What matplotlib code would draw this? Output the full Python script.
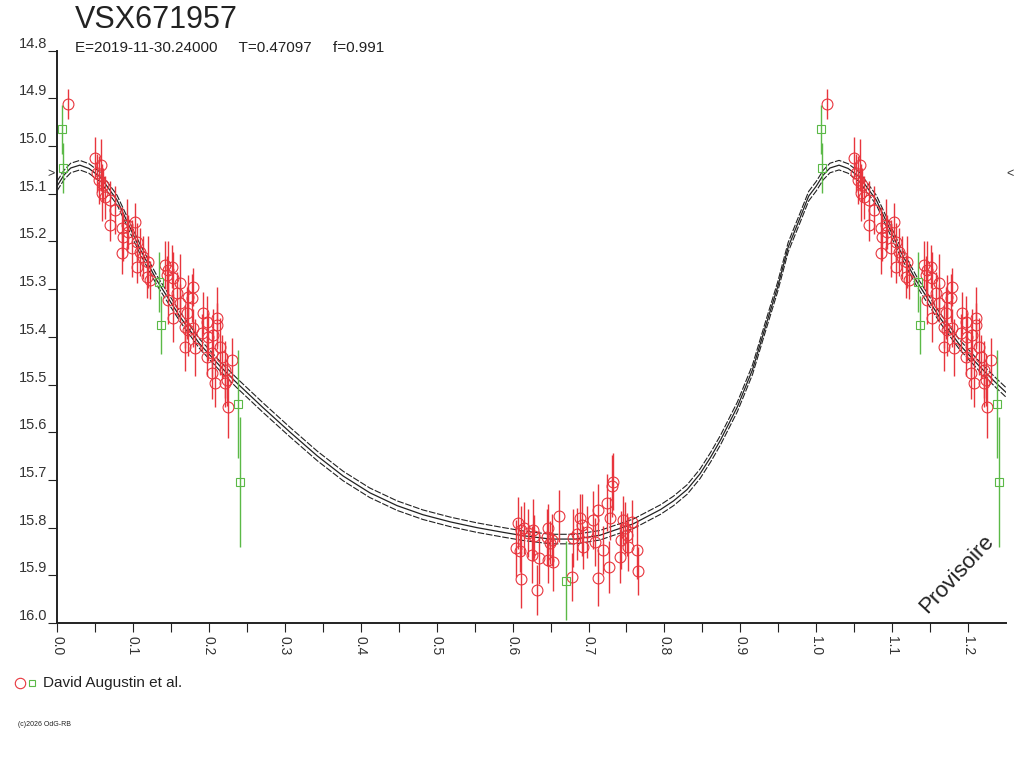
import numpy as np
import matplotlib
matplotlib.use("Agg")
import matplotlib.pyplot as plt
from matplotlib.lines import Line2D

plt.rcParams["font.family"] = ["Liberation Sans", "DejaVu Sans"]

RED = "#e8353d"
GREEN = "#5bb947"
INK = "#222222"

red_phase = [
    0.0141,
    0.0501, 0.0580, 0.0527, 0.0553, 0.0606, 0.0593, 0.0632, 0.0698, 0.0764, 0.0698,
    0.0856, 0.0922, 0.1028, 0.0870, 0.0935, 0.0856, 0.0988, 0.1054, 0.1094, 0.1133,
    0.1054, 0.1199, 0.1186, 0.1225, 0.1423, 0.1462, 0.1515, 0.1449, 0.1528, 0.1462,
    0.1581, 0.1621, 0.1621, 0.1528, 0.1713, 0.1726, 0.1792, 0.1779, 0.1686, 0.1726,
    0.1792, 0.1686, 0.1818, 0.1924, 0.1976, 0.1910, 0.1989, 0.2108, 0.2108, 0.2055,
    0.2042, 0.1976, 0.2148, 0.2174, 0.2042, 0.2082, 0.2213, 0.2306, 0.2240, 0.2253,
    0.2213,
    0.6074, 0.6113, 0.6047, 0.6100, 0.6113, 0.6153, 0.6206, 0.6271, 0.6285, 0.6258,
    0.6324, 0.6350, 0.6469, 0.6456, 0.6495, 0.6522, 0.6469, 0.6535, 0.6614, 0.6785,
    0.6798, 0.6851, 0.6891, 0.6917, 0.6930, 0.6983, 0.7062, 0.7088, 0.7128, 0.7128,
    0.7194, 0.7246, 0.7273, 0.7286, 0.7312, 0.7325, 0.7457, 0.7484, 0.7510, 0.7431,
    0.7523, 0.7418, 0.7576, 0.7642, 0.7655,
]
red_mag = [
    14.912,
    15.025, 15.040, 15.056, 15.071, 15.082, 15.098, 15.107, 15.113, 15.134, 15.165,
    15.172, 15.165, 15.159, 15.191, 15.180, 15.224, 15.214, 15.201, 15.222, 15.233,
    15.253, 15.243, 15.274, 15.281, 15.249, 15.260, 15.253, 15.270, 15.277, 15.323,
    15.308, 15.287, 15.329, 15.360, 15.350, 15.316, 15.295, 15.318, 15.379, 15.386,
    15.381, 15.421, 15.423, 15.350, 15.369, 15.392, 15.400, 15.360, 15.375, 15.396,
    15.434, 15.442, 15.421, 15.442, 15.476, 15.497, 15.469, 15.448, 15.490, 15.547,
    15.497,
    15.790, 15.805, 15.843, 15.849, 15.908, 15.801, 15.811, 15.805, 15.818, 15.857,
    15.931, 15.863, 15.801, 15.820, 15.832, 15.826, 15.867, 15.872, 15.776, 15.903,
    15.822, 15.813, 15.780, 15.795, 15.841, 15.809, 15.784, 15.830, 15.763, 15.905,
    15.847, 15.748, 15.883, 15.780, 15.713, 15.704, 15.784, 15.801, 15.815, 15.826,
    15.841, 15.861, 15.788, 15.847, 15.891,
]
red_err = [
    0.031,
    0.045, 0.055, 0.040, 0.050, 0.035, 0.060, 0.045, 0.040, 0.050, 0.035,
    0.045, 0.055, 0.040, 0.050, 0.035, 0.045, 0.060, 0.040, 0.050, 0.045,
    0.035, 0.055, 0.045, 0.040, 0.050, 0.060, 0.045, 0.040, 0.055, 0.050,
    0.045, 0.060, 0.040, 0.050, 0.055, 0.045, 0.040, 0.050, 0.045, 0.055,
    0.040, 0.050, 0.060, 0.045, 0.055, 0.040, 0.050, 0.065, 0.045, 0.055,
    0.050, 0.040, 0.060, 0.045, 0.055, 0.050, 0.060, 0.045, 0.055, 0.065,
    0.050,
    0.055, 0.050, 0.060, 0.045, 0.060, 0.055, 0.050, 0.065, 0.045, 0.060,
    0.052, 0.055, 0.050, 0.060, 0.045, 0.055, 0.050, 0.060, 0.055, 0.050,
    0.060, 0.055, 0.050, 0.065, 0.045, 0.055, 0.060, 0.050, 0.055, 0.060,
    0.050, 0.060, 0.055, 0.045, 0.065, 0.060, 0.050, 0.055, 0.045, 0.060,
    0.050, 0.055, 0.045, 0.060, 0.050,
]

green_phase = [0.0062, 0.0079, 0.1344, 0.1370, 0.2385, 0.2411, 0.6706]
green_mag = [14.965, 15.046, 15.285, 15.375, 15.541, 15.704, 15.911]
green_err = [0.052, 0.052, 0.062, 0.060, 0.113, 0.136, 0.082]

# --- fitted light curve (phase, magnitude) ---
curve_phase = [
    0.000, 0.009, 0.018, 0.030, 0.042, 0.057, 0.079, 0.109, 0.132, 0.162,
    0.188, 0.215, 0.237, 0.271, 0.307, 0.343, 0.377, 0.412, 0.448, 0.482,
    0.518, 0.553, 0.588, 0.614, 0.650, 0.683, 0.715, 0.759, 0.795, 0.812,
    0.830, 0.847, 0.861, 0.874, 0.896, 0.916, 0.933, 0.949, 0.963, 0.979,
    0.990, 1.000,
]
curve_mag = [
    15.084, 15.061, 15.046, 15.040, 15.047, 15.065, 15.113, 15.215, 15.283, 15.358,
    15.415, 15.462, 15.497, 15.548, 15.600, 15.650, 15.692, 15.727, 15.754, 15.773,
    15.788, 15.800, 15.810, 15.817, 15.824, 15.824, 15.816, 15.792, 15.762, 15.744,
    15.720, 15.687, 15.652, 15.616, 15.547, 15.469, 15.379, 15.296, 15.212, 15.149,
    15.105, 15.084,
]
band = 0.010
period_shift = 1.0

x_ticks = np.round(np.arange(0.0, 1.21, 0.1), 1)
y_ticks = np.round(np.arange(14.8, 16.01, 0.1), 1)

fig = plt.figure(figsize=(10.24, 7.68), dpi=100)
ax = fig.add_axes([0.0557, 0.1888, 0.9268, 0.7452])

cp = np.array(curve_phase)
cm = np.array(curve_mag)
cx = np.concatenate([cp, cp[1:] + period_shift])
cy = np.concatenate([cm, cm[1:]])
ax.plot(cx, cy, color=INK, lw=0.9, zorder=2)
ax.plot(cx, cy - band, color=INK, lw=0.8, ls=(0, (6, 1.5)), zorder=2)
ax.plot(cx, cy + band, color=INK, lw=0.8, ls=(0, (6, 1.5)), zorder=2)


def with_copy(ph, mg, er):
    ph, mg, er = np.array(ph), np.array(mg), np.array(er)
    keep = ph + period_shift <= 1.25
    return (np.concatenate([ph, ph[keep] + period_shift]),
            np.concatenate([mg, mg[keep]]),
            np.concatenate([er, er[keep]]))


rx, ry, re = with_copy(red_phase, red_mag, red_err)
ax.errorbar(rx, ry, yerr=re, fmt="o", ms=7.8, mfc="none", mec=RED, mew=0.8,
            ecolor=RED, elinewidth=1.0, capsize=0, zorder=3)
gx, gy, ge = with_copy(green_phase, green_mag, green_err)
ax.errorbar(gx, gy, yerr=ge, fmt="s", ms=5.8, mfc="none", mec=GREEN, mew=0.8,
            ecolor=GREEN, elinewidth=1.0, capsize=0, zorder=4)

ax.set_xlim(0.0, 1.25)
ax.set_ylim(16.0, 14.8)
ax.set_xticks(x_ticks)
ax.set_xticks(np.arange(0.05, 1.25, 0.1), minor=True)
ax.set_xticklabels([f"{v:.1f}" for v in x_ticks], rotation=270, fontsize=10, color="#333333")
ax.set_yticks(y_ticks)
ax.set_yticklabels([f"{v:.1f}" for v in y_ticks], fontsize=10.5, color="#333333")
for lab in ax.get_yticklabels():
    lab.set_verticalalignment("bottom")

for s in ("top", "right"):
    ax.spines[s].set_visible(False)
for s in ("left", "bottom"):
    ax.spines[s].set_color(INK)
    ax.spines[s].set_linewidth(1.4)
ax.tick_params(axis="both", which="both", direction="out", length=6.5, width=0.8,
               color=INK)
ax.tick_params(axis="y", pad=0.5)
ax.tick_params(axis="x", pad=3)

# level markers on both sides of the plot
ax.text(-0.003, 15.058, ">", transform=ax.get_yaxis_transform(), ha="right",
        va="center", fontsize=9, color="#333333")
ax.text(1.0, 15.058, "<", transform=ax.get_yaxis_transform(), ha="left",
        va="center", fontsize=9, color="#333333")

fig.text(0.0732, 0.974, "VSX671957", fontsize=22, color=INK, ha="left", va="center")
fig.text(0.0732, 0.9375, "E=2019-11-30.24000     T=0.47097     f=0.991",
         fontsize=11, color=INK, ha="left", va="center")
fig.text(0.9346, 0.2526, "Provisoire", fontsize=16, rotation=47, color=INK,
         ha="center", va="center")

# legend below the plot
fig.add_artist(Line2D([0.0195], [0.1107], marker="o", ms=7.5, mfc="none", mec=RED,
                      mew=0.8, ls="none", transform=fig.transFigure))
fig.add_artist(Line2D([0.0315], [0.1107], marker="s", ms=5, mfc="none", mec=GREEN,
                      mew=0.8, ls="none", transform=fig.transFigure))
fig.text(0.042, 0.1107, "David Augustin et al.", fontsize=11, color=INK,
         ha="left", va="center")
fig.text(0.0176, 0.056, "(c)2026 OdG-RB", fontsize=5, color=INK, ha="left", va="center")

fig.savefig("out.png", dpi=100)
